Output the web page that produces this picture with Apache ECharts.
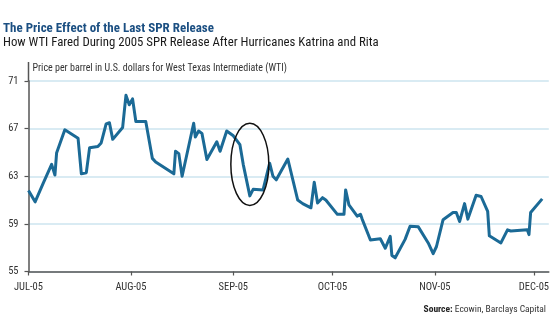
<!DOCTYPE html>
<html>
<head>
<meta charset="utf-8">
<script src="https://cdn.jsdelivr.net/npm/echarts@6/dist/echarts.min.js"></script>
<style>
  html, body { margin: 0; padding: 0; background: #fff; }
  #chart { width: 552px; height: 336px; }
</style>
</head>
<body>
<div id="chart"></div>
<script>
// WTI crude, daily close (USD per barrel), Jul–Dec 2005
const dates = [
  '2005-07-01', '2005-07-03', '2005-07-05 12:00', '2005-07-08', '2005-07-09', '2005-07-09 12:00',
  '2005-07-12', '2005-07-16', '2005-07-17', '2005-07-18 12:00', '2005-07-19 12:00', '2005-07-22',
  '2005-07-23', '2005-07-24 12:00', '2005-07-25 12:00', '2005-07-26 12:00', '2005-07-29 12:00',
  '2005-07-30 12:00', '2005-07-31 12:00', '2005-08-01 12:00', '2005-08-02 12:00', '2005-08-05 12:00',
  '2005-08-07 12:00', '2005-08-08 12:00', '2005-08-14', '2005-08-14 12:00', '2005-08-15 12:00',
  '2005-08-16 12:00', '2005-08-20', '2005-08-20 12:00', '2005-08-21 12:00', '2005-08-22 12:00',
  '2005-08-24', '2005-08-27', '2005-08-28', '2005-08-30', '2005-09-01', '2005-09-03', '2005-09-04',
  '2005-09-06', '2005-09-07', '2005-09-10', '2005-09-12', '2005-09-13', '2005-09-14',
  '2005-09-17 12:00', '2005-09-20 12:00', '2005-09-22', '2005-09-24 12:00', '2005-09-25 12:00',
  '2005-09-26 12:00', '2005-09-28', '2005-09-29', '2005-10-02 12:00', '2005-10-04 12:00',
  '2005-10-05', '2005-10-06', '2005-10-08 12:00', '2005-10-09 12:00', '2005-10-10',
  '2005-10-12 12:00', '2005-10-15 12:00', '2005-10-17', '2005-10-18 12:00', '2005-10-19',
  '2005-10-20', '2005-10-23', '2005-10-24 12:00', '2005-10-27', '2005-10-30', '2005-10-31 12:00',
  '2005-11-01 12:00', '2005-11-03 12:00', '2005-11-06 12:00', '2005-11-07 12:00', '2005-11-08 12:00',
  '2005-11-10', '2005-11-11', '2005-11-13 12:00', '2005-11-15', '2005-11-17', '2005-11-17 12:00',
  '2005-11-21', '2005-11-23', '2005-11-24', '2005-11-29', '2005-11-29 12:00', '2005-11-30',
  '2005-12-03 12:00'
];
const wti = [
  61.8, 60.85, 62.45, 64.0, 63.1, 64.95,
  66.9, 66.2, 63.2, 63.3, 65.4, 65.5,
  65.8, 67.4, 67.5, 66.1, 67.1,
  69.8, 69.0, 69.5, 67.6, 67.6,
  64.5, 64.2, 63.2, 65.1, 64.9,
  63.0, 67.45, 66.3, 66.8, 66.6,
  64.4, 65.9, 65.1, 66.8, 66.4, 65.65, 64.0,
  61.35, 61.9, 61.85, 64.1, 63.0, 62.7,
  64.45, 61.0, 60.7, 60.35, 62.5,
  60.75, 61.2, 61.0, 59.8, 59.8,
  61.85, 60.6, 59.65, 59.8, 59.4,
  57.65, 57.75, 56.95, 57.95, 56.35,
  56.15, 57.7, 58.8, 58.75, 57.4, 56.5,
  57.1, 59.35, 59.95, 59.95, 59.2,
  60.7, 59.4, 61.4, 61.3, 60.05, 58.0,
  57.4, 58.5, 58.4, 58.5, 58.1, 59.95,
  61.1
];
// Month-start ticks and their labels
const monthTicks = ['2005-07-01', '2005-08-01', '2005-09-01', '2005-10-01', '2005-11-01', '2005-12-01'];
const monthLabels = ['JUL-05', 'AUG-05', 'SEP-05', 'OCT-05', 'NOV-05', 'DEC-05'];
const yTicks = [55, 59, 63, 67, 71];
// The SPR release window that gets circled
const releaseCenter = ['2005-09-06', 64.0];
const releaseSpan = { from: ['2005-09-01', 60.55], to: ['2005-09-12 12:00', 67.45] };

const narrow = "'Liberation Sans Narrow', 'Roboto Condensed', 'DejaVu Sans Condensed', sans-serif";
const toTs = s => new Date(s.replace(' ', 'T')).getTime();
const tickTs = monthTicks.map(toTs);

const chart = echarts.init(document.getElementById('chart'), null, { renderer: 'canvas' });

chart.setOption({
  animation: false,
  backgroundColor: '#ffffff',
  title: [
    {
      text: 'The Price Effect of the Last SPR Release',
      left: 3, top: 22, padding: 0,
      textStyle: { fontFamily: narrow, fontSize: 13, fontWeight: 'bold', color: '#1b4f82' }
    },
    {
      text: 'How WTI Fared During 2005 SPR Release After Hurricanes Katrina and Rita',
      left: 3, top: 36, padding: 0,
      textStyle: { fontFamily: narrow, fontSize: 12.8, fontWeight: 'normal', color: '#1a1a1a' }
    },
    {
      text: '{b|Source:} Ecowin, Barclays Capital',
      right: 6, top: 305, padding: 0,
      textStyle: {
        fontFamily: narrow, fontSize: 9.5, fontWeight: 'normal', color: '#333',
        rich: { b: { fontFamily: narrow, fontSize: 9.5, fontWeight: 'bold', color: '#222' } }
      }
    }
  ],
  grid: { left: 28.5, right: 3, top: 81, bottom: 64.5, containLabel: false },
  xAxis: {
    // dates carried as millisecond timestamps on a linear axis
    type: 'value',
    min: toTs('2005-07-01'),
    max: toTs('2005-12-05 12:00'),
    axisLine: { show: true, onZero: false, lineStyle: { color: '#555', width: 1.5 } },
    axisTick: { show: true, customValues: tickTs, length: 4, lineStyle: { color: '#555', width: 1.2 } },
    axisLabel: {
      customValues: tickTs,
      margin: 10,
      fontFamily: narrow, fontSize: 10.5, color: '#333',
      formatter: v => monthLabels[tickTs.indexOf(v)] || ''
    },
    splitLine: { show: false }
  },
  yAxis: {
    type: 'value',
    min: yTicks[0], max: yTicks[yTicks.length - 1], interval: 4,
    name: 'Price per barrel in U.S. dollars for West Texas Intermediate (WTI)',
    nameLocation: 'end',
    nameGap: 8,
    nameTextStyle: { fontFamily: narrow, fontSize: 10, color: '#333', align: 'left', padding: [0, 0, 0, 4] },
    axisLine: { show: true, lineStyle: { color: '#555', width: 1.5 } },
    axisTick: { show: true, length: 4, lineStyle: { color: '#555', width: 1.2 } },
    axisLabel: { margin: 10, fontFamily: narrow, fontSize: 10.5, color: '#333' },
    splitLine: { show: true, lineStyle: { color: '#cde5ef', width: 1.5 } }
  },
  series: [{
    type: 'line',
    data: dates.map((d, i) => [toTs(d), wti[i]]),
    showSymbol: false,
    smooth: false,
    lineStyle: { color: '#1b6a96', width: 3, join: 'round' },
    z: 5
  }]
});

// Axis stub above the top tick and the ellipse around the release window
const ctr = chart.convertToPixel({ gridIndex: 0 }, [toTs(releaseCenter[0]), releaseCenter[1]]);
const pA = chart.convertToPixel({ gridIndex: 0 }, [toTs(releaseSpan.from[0]), releaseSpan.from[1]]);
const pB = chart.convertToPixel({ gridIndex: 0 }, [toTs(releaseSpan.to[0]), releaseSpan.to[1]]);
const axisTop = chart.convertToPixel({ gridIndex: 0 }, [toTs('2005-07-01'), yTicks[yTicks.length - 1]]);

chart.setOption({
  graphic: [
    {
      type: 'line',
      shape: { x1: axisTop[0], y1: axisTop[1] - 19, x2: axisTop[0], y2: axisTop[1] },
      style: { stroke: '#555', lineWidth: 1.5 },
      silent: true
    },
    {
      type: 'ellipse',
      shape: { cx: ctr[0], cy: ctr[1], rx: Math.abs(pB[0] - pA[0]) / 2, ry: Math.abs(pA[1] - pB[1]) / 2 },
      style: { fill: 'none', stroke: '#111', lineWidth: 1.5 },
      z: 10,
      silent: true
    }
  ]
});
</script>
</body>
</html>
